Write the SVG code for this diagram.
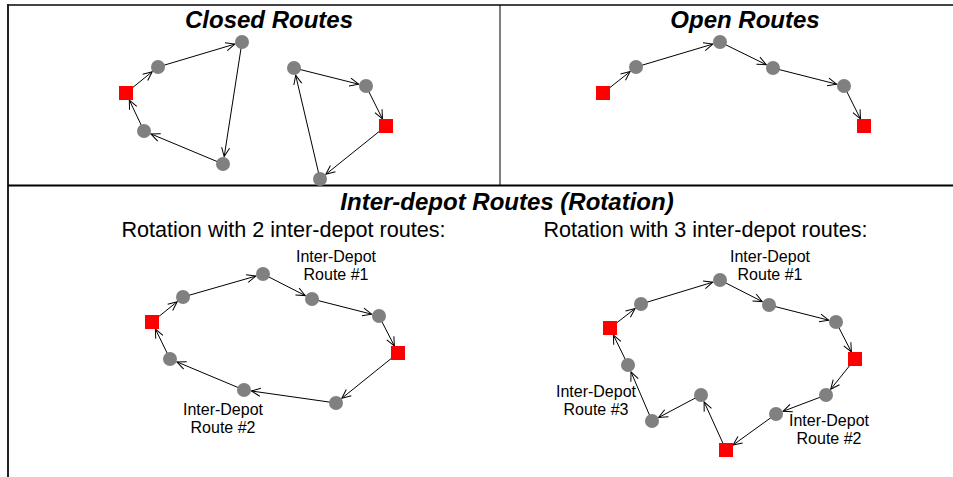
<svg xmlns="http://www.w3.org/2000/svg" width="953" height="477" viewBox="0 0 953 477">
<style>
.c{fill:#808080}
.d{fill:#ff0000}
.e{fill:none;stroke:#000;stroke-width:1;marker-end:url(#ah)}
.t{font-family:"Liberation Sans",Arial,sans-serif;font-size:24px;font-weight:bold;font-style:italic;text-anchor:middle;fill:#000}
.s{font-family:"Liberation Sans",Arial,sans-serif;font-size:21.6px;text-anchor:middle;fill:#000}
.l{font-family:"Liberation Sans",Arial,sans-serif;font-size:16px;text-anchor:middle;fill:#000}
</style>
<defs>
<marker id="ah" markerUnits="userSpaceOnUse" markerWidth="12" markerHeight="10" refX="9" refY="4" orient="auto" overflow="visible">
<path d="M0,0 L9,4 L0,8" fill="none" stroke="#000" stroke-width="1"/>
</marker>
</defs>
<rect width="953" height="477" fill="#fff"/>
<g id="frame" fill="none">
<line x1="8" y1="5" x2="953" y2="5" stroke="#444" stroke-width="2"/>
<line x1="8" y1="4" x2="8" y2="477" stroke="#222" stroke-width="2"/>
<line x1="500" y1="5" x2="500" y2="185" stroke="#000" stroke-width="1"/>
<line x1="8" y1="185.5" x2="953" y2="185.5" stroke="#000" stroke-width="2"/>
</g>
<g id="titles">
<text class="t" x="269" y="28">Closed Routes</text>
<text class="t" x="745" y="28">Open Routes</text>
<text class="t" x="507" y="210">Inter-depot Routes (Rotation)</text>
<text class="s" x="283.5" y="237">Rotation with 2 inter-depot routes:</text>
<text class="s" x="705.5" y="237">Rotation with 3 inter-depot routes:</text>
</g>
<g id="connectors">
<line class="e" x1="126" y1="93" x2="152.2" y2="71.7"/>
<line class="e" x1="158" y1="67" x2="234.8" y2="44.1"/>
<line class="e" x1="242" y1="42" x2="224.2" y2="156.6"/>
<line class="e" x1="223" y1="164" x2="150.9" y2="133.9"/>
<line class="e" x1="144" y1="131" x2="129.3" y2="100"/>
<line class="e" x1="294" y1="68" x2="358.7" y2="84.2"/>
<line class="e" x1="366" y1="86" x2="382.5" y2="119"/>
<line class="e" x1="386" y1="126" x2="325.9" y2="174.3"/>
<line class="e" x1="320" y1="179" x2="295.7" y2="75.3"/>
<line class="e" x1="603" y1="93" x2="630.1" y2="71.6"/>
<line class="e" x1="636" y1="67" x2="712.8" y2="44.1"/>
<line class="e" x1="720" y1="42" x2="766.3" y2="64.7"/>
<line class="e" x1="773" y1="68" x2="836.7" y2="84.2"/>
<line class="e" x1="844" y1="86" x2="860.5" y2="119"/>
<line class="e" x1="152" y1="322" x2="177.2" y2="301.7"/>
<line class="e" x1="183" y1="297" x2="255.8" y2="276.1"/>
<line class="e" x1="263" y1="274" x2="305.3" y2="295.6"/>
<line class="e" x1="312" y1="299" x2="371.7" y2="314.2"/>
<line class="e" x1="379" y1="316" x2="394.4" y2="346"/>
<line class="e" x1="398" y1="353" x2="341.8" y2="398.3"/>
<line class="e" x1="336" y1="403" x2="251.4" y2="391"/>
<line class="e" x1="244" y1="390" x2="176.9" y2="361.9"/>
<line class="e" x1="170" y1="359" x2="155.4" y2="329"/>
<line class="e" x1="610" y1="328" x2="635.1" y2="308.6"/>
<line class="e" x1="641" y1="304" x2="712.8" y2="282.2"/>
<line class="e" x1="720" y1="280" x2="762.3" y2="301.6"/>
<line class="e" x1="769" y1="305" x2="828.7" y2="320.2"/>
<line class="e" x1="836" y1="322" x2="851.4" y2="352"/>
<line class="e" x1="855" y1="359" x2="830.7" y2="389.2"/>
<line class="e" x1="826" y1="395" x2="783" y2="411.3"/>
<line class="e" x1="776" y1="414" x2="733" y2="445"/>
<line class="e" x1="726" y1="450" x2="704.1" y2="401.8"/>
<line class="e" x1="701" y1="395" x2="658.6" y2="417.5"/>
<line class="e" x1="652" y1="421" x2="631" y2="371.9"/>
<line class="e" x1="628" y1="365" x2="613.4" y2="335"/>
</g>
<g id="closed-nodes">
<g id="c1-depot"><rect class="d" x="119" y="86" width="14" height="14"/></g>
<g id="c1-n1"><circle class="c" cx="158" cy="67" r="7"/></g>
<g id="c1-n2"><circle class="c" cx="242" cy="42" r="7"/></g>
<g id="c1-n3"><circle class="c" cx="223" cy="164" r="7"/></g>
<g id="c1-n4"><circle class="c" cx="144" cy="131" r="7"/></g>
<g id="c2-n1"><circle class="c" cx="294" cy="68" r="7"/></g>
<g id="c2-n2"><circle class="c" cx="366" cy="86" r="7"/></g>
<g id="c2-depot"><rect class="d" x="379" y="119" width="14" height="14"/></g>
<g id="c2-n3"><circle class="c" cx="320" cy="179" r="7"/></g>
</g>
<g id="open-nodes">
<g id="o-depot1"><rect class="d" x="596" y="86" width="14" height="14"/></g>
<g id="o-n1"><circle class="c" cx="636" cy="67" r="7"/></g>
<g id="o-n2"><circle class="c" cx="720" cy="42" r="7"/></g>
<g id="o-n3"><circle class="c" cx="773" cy="68" r="7"/></g>
<g id="o-n4"><circle class="c" cx="844" cy="86" r="7"/></g>
<g id="o-depot2"><rect class="d" x="857" y="119" width="14" height="14"/></g>
</g>
<g id="rot2-nodes">
<g id="r2-depot1"><rect class="d" x="145" y="315" width="14" height="14"/></g>
<g id="r2-n1"><circle class="c" cx="183" cy="297" r="7"/></g>
<g id="r2-n2"><circle class="c" cx="263" cy="274" r="7"/></g>
<g id="r2-n3"><circle class="c" cx="312" cy="299" r="7"/></g>
<g id="r2-n4"><circle class="c" cx="379" cy="316" r="7"/></g>
<g id="r2-depot2"><rect class="d" x="391" y="346" width="14" height="14"/></g>
<g id="r2-n5"><circle class="c" cx="336" cy="403" r="7"/></g>
<g id="r2-n6"><circle class="c" cx="244" cy="390" r="7"/></g>
<g id="r2-n7"><circle class="c" cx="170" cy="359" r="7"/></g>
<g id="r2-label1"><text class="l" x="336" y="262">Inter-Depot</text><text class="l" x="336" y="280">Route #1</text></g>
<g id="r2-label2"><text class="l" x="223" y="415">Inter-Depot</text><text class="l" x="223" y="433">Route #2</text></g>
</g>
<g id="rot3-nodes">
<g id="r3-depot1"><rect class="d" x="603" y="321" width="14" height="14"/></g>
<g id="r3-n1"><circle class="c" cx="641" cy="304" r="7"/></g>
<g id="r3-n2"><circle class="c" cx="720" cy="280" r="7"/></g>
<g id="r3-n3"><circle class="c" cx="769" cy="305" r="7"/></g>
<g id="r3-n4"><circle class="c" cx="836" cy="322" r="7"/></g>
<g id="r3-depot2"><rect class="d" x="848" y="352" width="14" height="14"/></g>
<g id="r3-n5"><circle class="c" cx="826" cy="395" r="7"/></g>
<g id="r3-n6"><circle class="c" cx="776" cy="414" r="7"/></g>
<g id="r3-depot3"><rect class="d" x="719" y="443" width="14" height="14"/></g>
<g id="r3-n7"><circle class="c" cx="701" cy="395" r="7"/></g>
<g id="r3-n8"><circle class="c" cx="652" cy="421" r="7"/></g>
<g id="r3-n9"><circle class="c" cx="628" cy="365" r="7"/></g>
<g id="r3-label1"><text class="l" x="770" y="262">Inter-Depot</text><text class="l" x="770" y="280">Route #1</text></g>
<g id="r3-label2"><text class="l" x="829" y="426">Inter-Depot</text><text class="l" x="829" y="444">Route #2</text></g>
<g id="r3-label3"><text class="l" x="596" y="397">Inter-Depot</text><text class="l" x="596" y="415">Route #3</text></g>
</g>
</svg>
